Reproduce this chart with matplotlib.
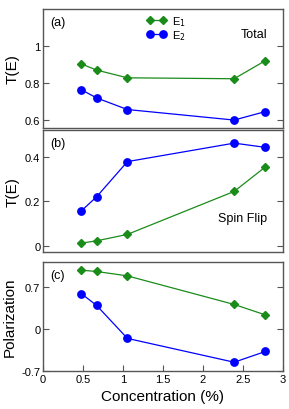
import matplotlib
matplotlib.use("Agg")
import matplotlib.pyplot as plt

plt.rcParams['font.family'] = ['Liberation Sans', 'DejaVu Sans']

conc = [0.48, 0.67, 1.055, 2.39, 2.78]
total_e1 = [0.902, 0.869, 0.827, 0.822, 0.920]
total_e2 = [0.762, 0.718, 0.655, 0.598, 0.644]
flip_e1 = [0.012, 0.022, 0.051, 0.244, 0.354]
flip_e2 = [0.157, 0.220, 0.378, 0.461, 0.442]
pol_e1 = [0.98, 0.958, 0.885, 0.409, 0.235]
pol_e2 = [0.588, 0.392, -0.157, -0.554, -0.375]

green = '#1a8c1a'
blue = '#0000ff'
spine = '#555555'

fig = plt.figure(figsize=(2.89, 4.10), dpi=100)
L, W = 0.149, 0.830
ax_a = fig.add_axes([L, 0.6854, W, 0.2902])
ax_b = fig.add_axes([L, 0.383, W, 0.2975])
ax_c = fig.add_axes([L, 0.0927, W, 0.2658])

def style(ax, yticks, yticklabels, show_x):
    for s in ax.spines.values():
        s.set_color(spine)
        s.set_linewidth(1.0)
    ax.set_xlim(0, 3)
    ax.set_yticks(yticks)
    ax.set_yticklabels(yticklabels)
    ax.tick_params(axis='y', direction='in', left=True, right=True, length=4,
                   color=spine, labelsize=8, pad=2)
    if show_x:
        ax.set_xticks([0, 0.5, 1, 1.5, 2, 2.5, 3])
        ax.set_xticklabels(['0', '0.5', '1', '1.5', '2', '2.5', '3'])
        ax.tick_params(axis='x', direction='in', length=4, color=spine,
                       labelsize=8, pad=2, top=False)
    else:
        ax.set_xticks([])

def plot_pair(ax, e1, e2):
    l1, = ax.plot(conc, e1, color=green, lw=0.9, marker='D', ms=3.6,
                  mec=green, mfc=green, label=r'E$_1$')
    l2, = ax.plot(conc, e2, color=blue, lw=0.9, marker='o', ms=5.3,
                  mec=blue, mfc=blue, label=r'E$_2$')
    return l1, l2

te_font = dict(fontsize=11, family=['Liberation Sans Narrow', 'Liberation Sans'])

plot_pair(ax_a, total_e1, total_e2)
ax_a.set_ylim(0.555, 1.2)
style(ax_a, [0.6, 0.8, 1.0], ['0.6', '0.8', '1'], False)
ax_a.set_ylabel('T(E)', labelpad=4, **te_font)
ax_a.text(0.03, 0.94, '(a)', transform=ax_a.transAxes, fontsize=9, va='top', ha='left')
ax_a.text(0.935, 0.79, 'Total', transform=ax_a.transAxes, fontsize=9, va='center', ha='right')
ax_a.legend(loc='upper left', bbox_to_anchor=(0.432, 0.955), frameon=False, fontsize=8,
            handlelength=1.77, handletextpad=0.5, labelspacing=0.0, borderpad=0,
            borderaxespad=0, numpoints=2)

plot_pair(ax_b, flip_e1, flip_e2)
ax_b.set_ylim(-0.028, 0.52)
style(ax_b, [0, 0.2, 0.4], ['0', '0.2', '0.4'], False)
ax_b.set_ylabel('T(E)', labelpad=4, **te_font)
ax_b.text(0.03, 0.94, '(b)', transform=ax_b.transAxes, fontsize=9, va='top', ha='left')
ax_b.text(0.935, 0.28, 'Spin Flip', transform=ax_b.transAxes, fontsize=9, va='center', ha='right')

plot_pair(ax_c, pol_e1, pol_e2)
ax_c.set_ylim(-0.7, 1.116)
style(ax_c, [-0.7, 0, 0.7], ['-0.7', '0', '0.7'], True)
ax_c.set_ylabel('Polarization', fontsize=11, labelpad=3)
ax_c.set_xlabel('Concentration (%)', fontsize=11, labelpad=4)
ax_c.text(0.03, 0.94, '(c)', transform=ax_c.transAxes, fontsize=9, va='top', ha='left')

fig.savefig('out.png', dpi=100)
